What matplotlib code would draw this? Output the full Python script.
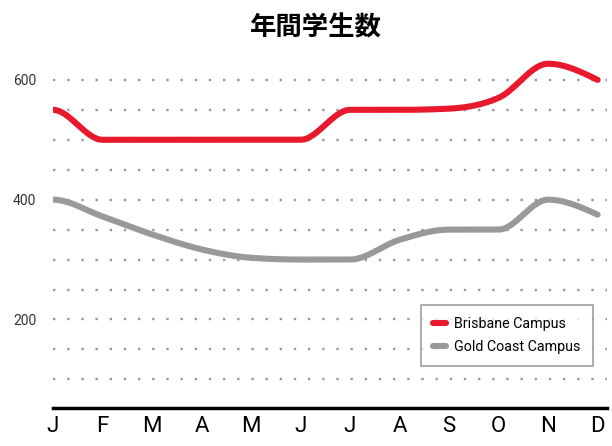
import numpy as np
import matplotlib.pyplot as plt

months = ["J", "F", "M", "A", "M", "J", "J", "A", "S", "O", "N", "D"]
brisbane = [550, 500, 500, 500, 500, 500, 550, 550, 552, 570, 627, 600]
gold_coast = [400, 372, 342, 317, 303, 300, 300, 333, 350, 350, 400, 375]


def monotone(x, y, xs):
    # monotone cubic (flat start), only to draw the smooth line
    x = np.asarray(x, float)
    y = np.asarray(y, float)
    h = np.diff(x)
    s = np.diff(y) / h
    m = np.zeros_like(y)
    for i in range(1, len(y) - 1):
        p = (s[i - 1] * h[i] + s[i] * h[i - 1]) / (h[i - 1] + h[i])
        m[i] = (np.sign(s[i - 1]) + np.sign(s[i])) * min(abs(s[i - 1]), abs(s[i]), 0.5 * abs(p))
    m[0] = 0
    m[-1] = (3 * s[-1] - m[-2]) / 2
    idx = np.clip(np.searchsorted(x, xs) - 1, 0, len(x) - 2)
    t = (xs - x[idx]) / h[idx]
    h00 = 2 * t**3 - 3 * t**2 + 1
    h10 = t**3 - 2 * t**2 + t
    h01 = -2 * t**3 + 3 * t**2
    h11 = t**3 - t**2
    return h00 * y[idx] + h10 * h[idx] * m[idx] + h01 * y[idx + 1] + h11 * h[idx] * m[idx + 1]


x = np.arange(len(months))
xs = np.linspace(0, len(months) - 1, 600)

fig = plt.figure(figsize=(6.12, 4.46), dpi=100)
ax = fig.add_axes([0.0866, 0.085, 0.906, 0.803])

ax.plot(xs, monotone(x, brisbane, xs), color="#E8192C", lw=4.4,
        solid_capstyle="round", label="Brisbane Campus", zorder=3)
ax.plot(xs, monotone(x, gold_coast, xs), color="#999999", lw=4.4,
        solid_capstyle="round", label="Gold Coast Campus", zorder=3)

ax.set_xlim(0, 11.2)
ax.set_ylim(52, 650)
ax.set_yticks([200, 400, 600])
ax.set_yticks(np.arange(100, 601, 50), minor=True)
ax.set_xticks(x)
ax.set_xticklabels(months, fontsize=16, fontfamily="Roboto", color="black")
ax.tick_params(axis="x", length=0, pad=6)
ax.tick_params(axis="y", which="both", length=0, pad=12, labelsize=10, labelcolor="#333333")
for lab in ax.get_yticklabels():
    lab.set_fontfamily("Roboto")

ax.grid(axis="y", which="both", color="#999999", linestyle=(0, (1, 5)), lw=1.7)
ax.set_axisbelow(True)
for sp in ["top", "right", "left"]:
    ax.spines[sp].set_visible(False)
ax.spines["bottom"].set_linewidth(2.5)
ax.spines["bottom"].set_color("black")

leg = ax.legend(loc="lower right", bbox_to_anchor=(0.973, 0.117), frameon=True,
                fancybox=False, edgecolor="#888888",
                handlelength=0.9, handletextpad=0.55, borderpad=0.85, labelspacing=0.6,
                borderaxespad=0, prop={"family": "Roboto", "size": 10.3})
leg.get_frame().set_linewidth(1.2)
for ln in leg.get_lines():
    ln.set_solid_capstyle("round")

fig.suptitle("年間学生数", x=0.517, y=0.968, fontsize=19, fontweight="bold",
             fontfamily=["Noto Sans CJK JP", "DejaVu Sans"])

fig.savefig("out.png", dpi=100)
